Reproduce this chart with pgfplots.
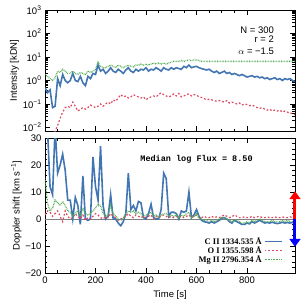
\documentclass[border=0pt]{standalone}
\usepackage{fontspec}
\setmainfont{Liberation Sans}
\newfontfamily\legfont{Liberation Serif}
\newfontfamily\medfont{Liberation Mono}
\usepackage{pgfplots}
\usepackage{pgfplotstable}
\pgfplotsset{compat=1.18}
\usetikzlibrary{arrows.meta}
\definecolor{cblue}{RGB}{66,118,178}
\definecolor{cred}{RGB}{222,72,96}
\definecolor{cgreen}{RGB}{80,172,80}

\pgfplotstableread{
t C O Mg
0 0.5 nan 1.8
10 0.3 nan 1.5
20 0.4 nan 1.2
30 0.07 0.003 1.0
40 0.08 0.007 1.3
50 1.2 0.012 2.5
60 0.6 0.025 2.2
70 1.8 0.045 3
80 1.0 0.07 2.5
90 0.8 0.08 2
100 1.0 0.07 2
110 2.0 0.12 2.5
120 1.0 0.08 2
130 0.9 0.05 1.8
140 1.5 0.06 2.2
150 0.8 0.07 2
160 0.6 0.06 1.8
170 1.5 0.07 2.5
180 1.2 0.09 2.2
190 2.0 0.08 2.5
200 1.8 0.07 3
210 4.5 0.08 6
220 2.5 0.1 4
230 3 0.08 3.5
240 2 0.1 3.5
250 2.5 0.12 4
260 3.5 0.1 4.5
270 2.5 0.15 4
280 2.2 0.13 3.5
290 3 0.18 4.5
300 2.5 0.25 4
310 2.0 0.2 3.5
320 2.8 0.22 4
330 3.5 0.18 4.5
340 2.5 0.2 4
350 2.2 0.25 3.8
360 3 0.22 4.5
370 2.5 0.2 4.5
380 3 0.18 5
390 2.8 0.2 4.5
400 3.5 0.15 5
410 2.5 0.18 4.5
420 3 0.2 5
430 2.8 0.22 5.5
440 3.5 0.2 5
450 3 0.25 5.5
460 2.5 0.3 5
470 3.5 0.25 5.5
480 3 0.22 5
490 2.8 0.2 5.5
500 3.5 0.22 6
510 3 0.27 6.5
520 3.5 0.22 6.5
530 3.2 0.28 6.5
540 3 0.2 7
550 4 0.22 6.5
560 3.5 0.25 7
570 4.5 0.27 7.5
580 3.5 0.22 7
590 3.8 0.25 7.5
600 4 0.24 7.5
610 3.5 0.2 7
620 3.2 0.19 6.5
630 3 0.17 6.5
640 2.8 0.15 6.5
650 3 0.16 6.5
660 2.5 0.15 6.5
670 2.2 0.14 6.5
680 2.5 0.13 6.5
690 2 0.14 6.5
700 2.2 0.13 6.5
710 2.5 0.12 6.5
720 2 0.14 6.5
730 2.2 0.11 6.5
740 1.8 0.12 6.5
750 2 0.11 6.5
760 1.8 0.1 6.5
770 1.6 0.11 6.5
780 1.8 0.09 6.5
790 1.6 0.1 6.5
800 1.4 0.095 6.5
810 1.5 0.085 6.5
820 1.6 0.09 6.5
830 1.4 0.08 6.5
840 1.5 0.07 6.5
850 1.3 0.065 6.5
860 1.4 0.07 6.5
870 1.2 0.06 6.5
880 1.3 0.055 6.5
890 1.1 0.06 6.5
900 1.2 0.05 6.5
910 1.3 0.055 6.5
920 1.1 0.05 6.5
930 1.2 0.055 6.5
940 1.0 0.045 6.5
950 1.2 0.05 6.5
960 1.1 0.045 6.5
970 1.2 0.04 6.5
980 1.0 0.04 6.5
990 0.9 0.035 6.5
}\toptable

\pgfplotstableread{
t C O Mg
0 34 1.5 15
10 33 3 6
20 12 2.5 3
30 9 1 4
40 34 2 7
50 17 3 6
60 20 1 5
70 24 -1 6.5
80 18 3 5
90 7 1 3
100 7 0 2.5
110 0 0.5 1
120 8 2 2
130 5 1 3
140 -2 0 1
150 16 1.5 4
160 0 -0.5 2
170 -0.5 0.5 1.5
180 0 0 2
190 23 1 3
200 12 2 4
210 7 1.5 5.5
220 27 0.5 5
230 5 0 2
240 0 1 1
250 1 0.5 1.5
260 9 2 5
270 0 1 2
280 0 0.5 1
290 -1.5 -0.5 0
300 -2.5 0 -0.5
310 -1 0.5 0.5
320 2 1 2
330 17 2 3
340 3.5 1 2.5
350 5 0.5 3
360 3 1.5 2
370 6.5 1 2.5
380 6 0.5 2
390 0.5 1 1
400 0 0.5 1.5
410 2 1 2
420 5.5 1.5 2.5
430 0.5 0 1
440 0 1 1.5
450 0 0.5 0.5
460 3.5 1 1.5
470 17 1.5 2
480 15 1 2
490 1 0.5 1
500 2.5 1 1.5
510 2.5 0.5 1
520 2 1 1.5
530 0 0.5 0.5
540 3 1 1.5
550 2.5 0.5 1
560 3 1 2
570 10 1.5 2.5
580 0.5 0.5 0.5
590 1.5 1 1
600 3.5 1.5 2
610 1 0.5 0.5
620 -0.5 0.5 0
630 -1 1 -0.5
640 -1.2 0.5 -0.5
650 -1.5 0.5 -1
660 -1 1 -0.5
670 -1.5 0.5 -1
680 -1 0.8 -0.5
690 -0.5 0.5 0
700 0.3 1 0.5
710 0.5 1.5 0.5
720 0 1 0
730 -1 0.5 -0.5
740 -1.5 0.8 -1
750 -0.5 1.5 -0.5
760 -1 1 -0.5
770 -1.5 0.5 -1
780 -2 0.5 -1.5
790 -2 0.8 -1.5
800 -1.5 0.5 -1
810 -1.8 0.5 -1.5
820 -1 1 -0.5
830 -1.5 0.5 -1
840 -1 0.8 -0.5
850 -0.5 1 0
860 -1 0.5 -0.5
870 -1.5 0.5 -1
880 -1.3 0.8 -1
890 -1.5 0.5 -1
900 -1.2 0.5 -0.5
910 -1.5 0.8 -1
920 -1.7 0.5 -1
930 -1.5 0.5 -1
940 -1.2 0.8 -0.5
950 -1.5 0.5 -1
960 -1.3 0.5 -0.5
970 -1.5 0.8 -1
980 -1.3 0.5 -1
990 -1.5 0.5 -1
}\bottable

\pgfplotsset{
  every axis/.append style={
    scale only axis, width=250pt,
    xmin=0, xmax=990,
    axis line style={line width=0.8pt},
    tick align=inside, tick style={black, line width=0.6pt},
    major tick length=5pt, minor tick length=2.5pt,
    xtick={0,200,400,600,800}, minor x tick num=3,
    tick label style={font=\fontsize{9.5}{10}\selectfont},
    label style={font=\fontsize{9.5}{10}\selectfont},
  },
  greenstyle/.style={cgreen, line width=1.3pt, dash pattern=on 0.7pt off 0.9pt},
  redstyle/.style={cred, line width=1.2pt, dash pattern=on 1.8pt off 2pt},
  bluestyle/.style={cblue, line width=1.6pt},
}

\begin{document}
\begin{tikzpicture}
\begin{axis}[
  at={(0,0)}, anchor=north west, name=top,
  height=121pt,
  ymode=log, ymin=0.00708, ymax=1000,
  ytick={0.01,0.1,1,10,100,1000},
  yticklabels={10\textsuperscript{−2},10\textsuperscript{−1},10\textsuperscript{0},10\textsuperscript{1},10\textsuperscript{2},10\textsuperscript{3}},
  xticklabels={},
  ylabel={Intensity [kDN]},
  ylabel style={yshift=-3pt},
  unbounded coords=jump,
]
\addplot[greenstyle] table[x=t,y=Mg] {\toptable};
\addplot[redstyle] table[x=t,y=O] {\toptable};
\addplot[bluestyle] table[x=t,y=C] {\toptable};
\node[anchor=east, font=\fontsize{9.5}{10}\selectfont] at (rel axis cs:0.93,0.83) {N = 300};
\node[anchor=east, font=\fontsize{9.5}{10}\selectfont] at (rel axis cs:0.93,0.755) {r = 2};
\node[anchor=east, font=\fontsize{9.5}{10}\selectfont] at (rel axis cs:0.93,0.66) {$\alpha$ = −1.5};
\end{axis}

\begin{axis}[
  at={(0,-128pt)}, anchor=north west, name=bot,
  height=135pt,
  ymin=-20, ymax=30,
  ytick={-20,-10,0,10,20,30},
  yticklabels={−20,−10,0,10,20,30},
  minor y tick num=4,
  xticklabels={0,200,400,600,800},
  xlabel={Time [s]},
  ylabel={Doppler shift [km s\textsuperscript{−1}]},
  ylabel style={yshift=-3pt},
  clip mode=individual,
  legend style={at={(rel axis cs:0.955,0.29)}, anchor=north east, draw=none, fill=none,
    font=\legfont\bfseries\fontsize{8.5}{9}\selectfont, row sep=-3.5pt, inner sep=1pt},
  legend plot pos=right, legend cell align=right,
  legend image code/.code={\draw[#1] (0cm,0cm) -- (0.6cm,0cm);},
]
\addplot[gray, line width=0.6pt, forget plot] coordinates {(0,0) (990,0)};
\addplot[bluestyle] table[x=t,y=C] {\bottable};
\addlegendentry{C II 1334.535 Å}
\addplot[redstyle] table[x=t,y=O] {\bottable};
\addlegendentry{O I 1355.598 Å}
\addplot[greenstyle] table[x=t,y=Mg] {\bottable};
\addlegendentry{Mg II 2796.354 Å}
\node[font=\medfont\bfseries\fontsize{8.5}{9}\selectfont] at (axis cs:600,22) {Median log Flux = 8.50};
\draw[red, line width=3pt, -{Triangle[width=11pt,length=8pt]}] (axis cs:990,0) -- (axis cs:990,10.3);
\draw[blue, line width=3pt, -{Triangle[width=11pt,length=8pt]}] (axis cs:990,0) -- (axis cs:990,-10.3);
\end{axis}
\pgfresetboundingbox
\path[use as bounding box] (-45pt,10pt) rectangle (260pt,-295pt);
\end{tikzpicture}
\end{document}
